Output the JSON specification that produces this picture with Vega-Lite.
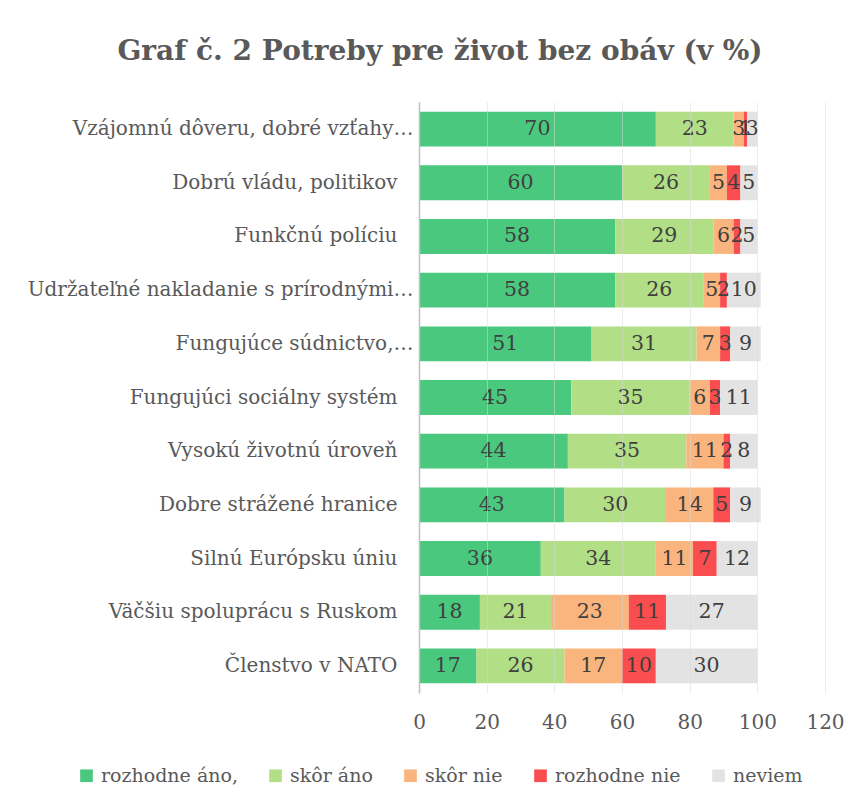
{
  "$schema": "https://vega.github.io/schema/vega-lite/v6.json",
  "width": 406,
  "height": 591,
  "autosize": "none",
  "padding": {"left": 419, "top": 102, "right": 37, "bottom": 114},
  "background": "white",
  "title": {
    "text": "Graf č. 2 Potreby pre život bez obáv (v %)",
    "font": "DejaVu Serif",
    "fontSize": 28,
    "fontWeight": "bold",
    "color": "#595959",
    "anchor": "middle",
    "dx": -182,
    "offset": 36
  },
  "config": {
    "view": {"stroke": null},
    "text": {"font": "DejaVu Serif"}
  },
  "data": {
    "values": [
      {"cat": "Vzájomnú dôveru, dobré vzťahy…", "resp": "rozhodne áno,", "k": 1, "value": 70},
      {"cat": "Vzájomnú dôveru, dobré vzťahy…", "resp": "skôr áno", "k": 2, "value": 23},
      {"cat": "Vzájomnú dôveru, dobré vzťahy…", "resp": "skôr nie", "k": 3, "value": 3},
      {"cat": "Vzájomnú dôveru, dobré vzťahy…", "resp": "rozhodne nie", "k": 4, "value": 1},
      {"cat": "Vzájomnú dôveru, dobré vzťahy…", "resp": "neviem", "k": 5, "value": 3},
      {"cat": "Dobrú vládu, politikov", "resp": "rozhodne áno,", "k": 1, "value": 60},
      {"cat": "Dobrú vládu, politikov", "resp": "skôr áno", "k": 2, "value": 26},
      {"cat": "Dobrú vládu, politikov", "resp": "skôr nie", "k": 3, "value": 5},
      {"cat": "Dobrú vládu, politikov", "resp": "rozhodne nie", "k": 4, "value": 4},
      {"cat": "Dobrú vládu, politikov", "resp": "neviem", "k": 5, "value": 5},
      {"cat": "Funkčnú políciu", "resp": "rozhodne áno,", "k": 1, "value": 58},
      {"cat": "Funkčnú políciu", "resp": "skôr áno", "k": 2, "value": 29},
      {"cat": "Funkčnú políciu", "resp": "skôr nie", "k": 3, "value": 6},
      {"cat": "Funkčnú políciu", "resp": "rozhodne nie", "k": 4, "value": 2},
      {"cat": "Funkčnú políciu", "resp": "neviem", "k": 5, "value": 5},
      {"cat": "Udržateľné nakladanie s prírodnými…", "resp": "rozhodne áno,", "k": 1, "value": 58},
      {"cat": "Udržateľné nakladanie s prírodnými…", "resp": "skôr áno", "k": 2, "value": 26},
      {"cat": "Udržateľné nakladanie s prírodnými…", "resp": "skôr nie", "k": 3, "value": 5},
      {"cat": "Udržateľné nakladanie s prírodnými…", "resp": "rozhodne nie", "k": 4, "value": 2},
      {"cat": "Udržateľné nakladanie s prírodnými…", "resp": "neviem", "k": 5, "value": 10},
      {"cat": "Fungujúce súdnictvo,…", "resp": "rozhodne áno,", "k": 1, "value": 51},
      {"cat": "Fungujúce súdnictvo,…", "resp": "skôr áno", "k": 2, "value": 31},
      {"cat": "Fungujúce súdnictvo,…", "resp": "skôr nie", "k": 3, "value": 7},
      {"cat": "Fungujúce súdnictvo,…", "resp": "rozhodne nie", "k": 4, "value": 3},
      {"cat": "Fungujúce súdnictvo,…", "resp": "neviem", "k": 5, "value": 9},
      {"cat": "Fungujúci sociálny systém", "resp": "rozhodne áno,", "k": 1, "value": 45},
      {"cat": "Fungujúci sociálny systém", "resp": "skôr áno", "k": 2, "value": 35},
      {"cat": "Fungujúci sociálny systém", "resp": "skôr nie", "k": 3, "value": 6},
      {"cat": "Fungujúci sociálny systém", "resp": "rozhodne nie", "k": 4, "value": 3},
      {"cat": "Fungujúci sociálny systém", "resp": "neviem", "k": 5, "value": 11},
      {"cat": "Vysokú životnú úroveň", "resp": "rozhodne áno,", "k": 1, "value": 44},
      {"cat": "Vysokú životnú úroveň", "resp": "skôr áno", "k": 2, "value": 35},
      {"cat": "Vysokú životnú úroveň", "resp": "skôr nie", "k": 3, "value": 11},
      {"cat": "Vysokú životnú úroveň", "resp": "rozhodne nie", "k": 4, "value": 2},
      {"cat": "Vysokú životnú úroveň", "resp": "neviem", "k": 5, "value": 8},
      {"cat": "Dobre strážené hranice", "resp": "rozhodne áno,", "k": 1, "value": 43},
      {"cat": "Dobre strážené hranice", "resp": "skôr áno", "k": 2, "value": 30},
      {"cat": "Dobre strážené hranice", "resp": "skôr nie", "k": 3, "value": 14},
      {"cat": "Dobre strážené hranice", "resp": "rozhodne nie", "k": 4, "value": 5},
      {"cat": "Dobre strážené hranice", "resp": "neviem", "k": 5, "value": 9},
      {"cat": "Silnú Európsku úniu", "resp": "rozhodne áno,", "k": 1, "value": 36},
      {"cat": "Silnú Európsku úniu", "resp": "skôr áno", "k": 2, "value": 34},
      {"cat": "Silnú Európsku úniu", "resp": "skôr nie", "k": 3, "value": 11},
      {"cat": "Silnú Európsku úniu", "resp": "rozhodne nie", "k": 4, "value": 7},
      {"cat": "Silnú Európsku úniu", "resp": "neviem", "k": 5, "value": 12},
      {"cat": "Väčšiu spoluprácu s Ruskom", "resp": "rozhodne áno,", "k": 1, "value": 18},
      {"cat": "Väčšiu spoluprácu s Ruskom", "resp": "skôr áno", "k": 2, "value": 21},
      {"cat": "Väčšiu spoluprácu s Ruskom", "resp": "skôr nie", "k": 3, "value": 23},
      {"cat": "Väčšiu spoluprácu s Ruskom", "resp": "rozhodne nie", "k": 4, "value": 11},
      {"cat": "Väčšiu spoluprácu s Ruskom", "resp": "neviem", "k": 5, "value": 27},
      {"cat": "Členstvo v NATO", "resp": "rozhodne áno,", "k": 1, "value": 17},
      {"cat": "Členstvo v NATO", "resp": "skôr áno", "k": 2, "value": 26},
      {"cat": "Členstvo v NATO", "resp": "skôr nie", "k": 3, "value": 17},
      {"cat": "Členstvo v NATO", "resp": "rozhodne nie", "k": 4, "value": 10},
      {"cat": "Členstvo v NATO", "resp": "neviem", "k": 5, "value": 30}
    ]
  },
  "transform": [
    {"stack": "value", "groupby": ["cat"], "sort": [{"field": "k"}], "as": ["x0", "x1"]},
    {"calculate": "(datum.x0 + datum.x1) / 2", "as": "xm"}
  ],
  "encoding": {
    "y": {
      "field": "cat",
      "type": "nominal",
      "sort": [
        "Vzájomnú dôveru, dobré vzťahy…",
        "Dobrú vládu, politikov",
        "Funkčnú políciu",
        "Udržateľné nakladanie s prírodnými…",
        "Fungujúce súdnictvo,…",
        "Fungujúci sociálny systém",
        "Vysokú životnú úroveň",
        "Dobre strážené hranice",
        "Silnú Európsku úniu",
        "Väčšiu spoluprácu s Ruskom",
        "Členstvo v NATO"
      ],
      "scale": {"paddingInner": 0.35, "paddingOuter": 0.18},
      "axis": {
        "title": null,
        "ticks": false,
        "domain": true,
        "domainColor": "#bfbfbf",
        "domainWidth": 1.5,
        "labelFont": "DejaVu Serif",
        "labelFontSize": 20,
        "labelColor": "#595959",
        "labelPadding": {"condition": {"test": "indexof(datum.value, '…') >= 0", "value": 6}, "value": 22},
        "labelLimit": 420,
        "zindex": 1
      }
    }
  },
  "layer": [
    {
      "mark": {"type": "bar"},
      "encoding": {
        "x": {
          "field": "x0",
          "type": "quantitative",
          "scale": {"domain": [0, 120], "nice": false},
          "axis": {
            "title": null,
            "values": [0, 20, 40, 60, 80, 100, 120],
            "grid": true,
            "gridColor": "#d9d9d9",
            "gridOpacity": 0.5,
            "domain": false,
            "ticks": false,
            "labelPadding": 19,
            "labelFont": "DejaVu Serif",
            "labelFontSize": 20,
            "labelColor": "#595959",
            "labelFlush": false,
            "zindex": 1
          }
        },
        "x2": {"field": "x1"},
        "color": {
          "field": "resp",
          "type": "nominal",
          "scale": {
            "domain": ["rozhodne áno,", "skôr áno", "skôr nie", "rozhodne nie", "neviem"],
            "range": ["#4ac87e", "#b2df85", "#f9b57d", "#f94d4f", "#e3e3e3"]
          },
          "legend": {
            "title": null,
            "orient": "none",
            "legendX": -342,
            "legendY": 664,
            "direction": "horizontal",
            "columns": 5,
            "symbolType": "square",
            "symbolSize": 160,
            "symbolStrokeWidth": 0,
            "labelFont": "DejaVu Serif",
            "labelFontSize": 19,
            "labelColor": "#595959",
            "labelOffset": 5,
            "columnPadding": 28,
            "labelLimit": 400
          }
        }
      }
    },
    {
      "mark": {"type": "text", "fontSize": 20.5, "color": "#404040", "font": "DejaVu Serif"},
      "encoding": {
        "x": {"field": "xm", "type": "quantitative"},
        "text": {"field": "value", "type": "quantitative"}
      }
    }
  ]
}
